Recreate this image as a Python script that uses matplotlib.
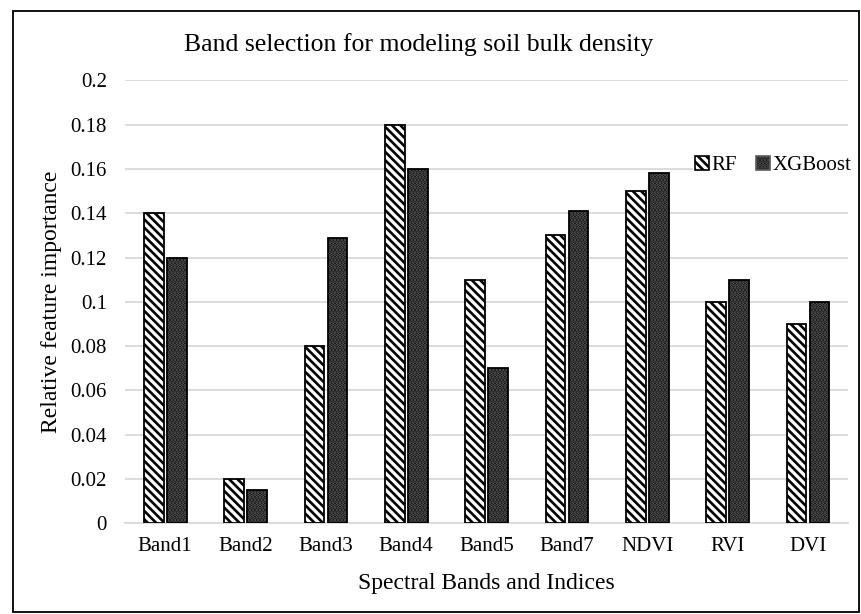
import numpy as np
import matplotlib.pyplot as plt
from matplotlib.patches import Rectangle

plt.rcParams['font.family'] = ['Liberation Serif', 'DejaVu Serif']
plt.rcParams['hatch.linewidth'] = 1.9

categories = ['Band1', 'Band2', 'Band3', 'Band4', 'Band5', 'Band7', 'NDVI', 'RVI', 'DVI']
rf = [0.14, 0.02, 0.08, 0.18, 0.11, 0.13, 0.15, 0.10, 0.09]
xgb = [0.12, 0.015, 0.129, 0.16, 0.07, 0.141, 0.158, 0.11, 0.10]
yticks = [0, 0.02, 0.04, 0.06, 0.08, 0.1, 0.12, 0.14, 0.16, 0.18, 0.2]
ylabels = ['0', '0.02', '0.04', '0.06', '0.08', '0.1', '0.12', '0.14', '0.16', '0.18', '0.2']

fig = plt.figure(figsize=(8.62, 6.14), dpi=100)
ax = fig.add_axes([0.145, 0.148, 0.839, 0.721])

x = np.arange(len(categories))
w = 0.245
off = 0.143

# RF: white with diagonal stripes
ax.bar(x - off, rf, w, facecolor='white', edgecolor='black', hatch='\\\\\\\\', linewidth=1.3, zorder=3)
# XGBoost: near-black with fine grey dots, outline drawn on top
ax.bar(x + off, xgb, w, facecolor='#050505', edgecolor='#5c5c5c', hatch='.....', linewidth=0, zorder=3)
ax.bar(x + off, xgb, w, fill=False, edgecolor='black', linewidth=1.3, zorder=4)

ax.set_xlim(-0.5, 8.5)
ax.set_ylim(0, 0.2)
ax.set_yticks(yticks)
ax.set_yticklabels(ylabels)
ax.set_xticks(x)
ax.set_xticklabels(categories)
ax.tick_params(axis='y', length=0, labelsize=15, pad=13)
ax.tick_params(axis='x', length=0, labelsize=15, pad=10)
ax.grid(axis='y', color='#d9d9d9', linewidth=1.3, zorder=0)
for s in ['top', 'right', 'left']:
    ax.spines[s].set_visible(False)
ax.spines['bottom'].set_color('#d9d9d9')
ax.spines['bottom'].set_linewidth(1.3)

ax.set_xlabel('Spectral Bands and Indices', fontsize=17, labelpad=12)
ax.yaxis.set_label_coords(-0.087, 0.5)
ax.set_ylabel('Relative feature importance', fontsize=17)
fig.text(0.486, 0.928, 'Band selection for modeling soil bulk density', fontsize=18.5, ha='center', va='center')

# legend
h1 = Rectangle((0, 0), 1, 1, facecolor='white', edgecolor='black', hatch='\\\\\\\\', linewidth=1.2)
h2 = Rectangle((0, 0), 1, 1, facecolor='#050505', edgecolor='#5c5c5c', hatch='.....', linewidth=1.2)
leg = ax.legend([h1, h2], ['RF', 'XGBoost'], loc='center left', bbox_to_anchor=(0.785, 0.808), ncol=2,
                frameon=True, fontsize=15, handlelength=0.7, handleheight=0.7, handletextpad=0.1,
                columnspacing=0.9, borderaxespad=0, borderpad=0.1)
leg.get_frame().set_edgecolor('none')
leg.get_frame().set_facecolor('white')
leg.get_frame().set_alpha(1)
leg.set_zorder(5)

fig.patches.append(Rectangle((0.015, 0.003), 0.9815, 0.979, transform=fig.transFigure,
                             fill=False, edgecolor='black', linewidth=1.3))

fig.savefig('out.png', dpi=100)
